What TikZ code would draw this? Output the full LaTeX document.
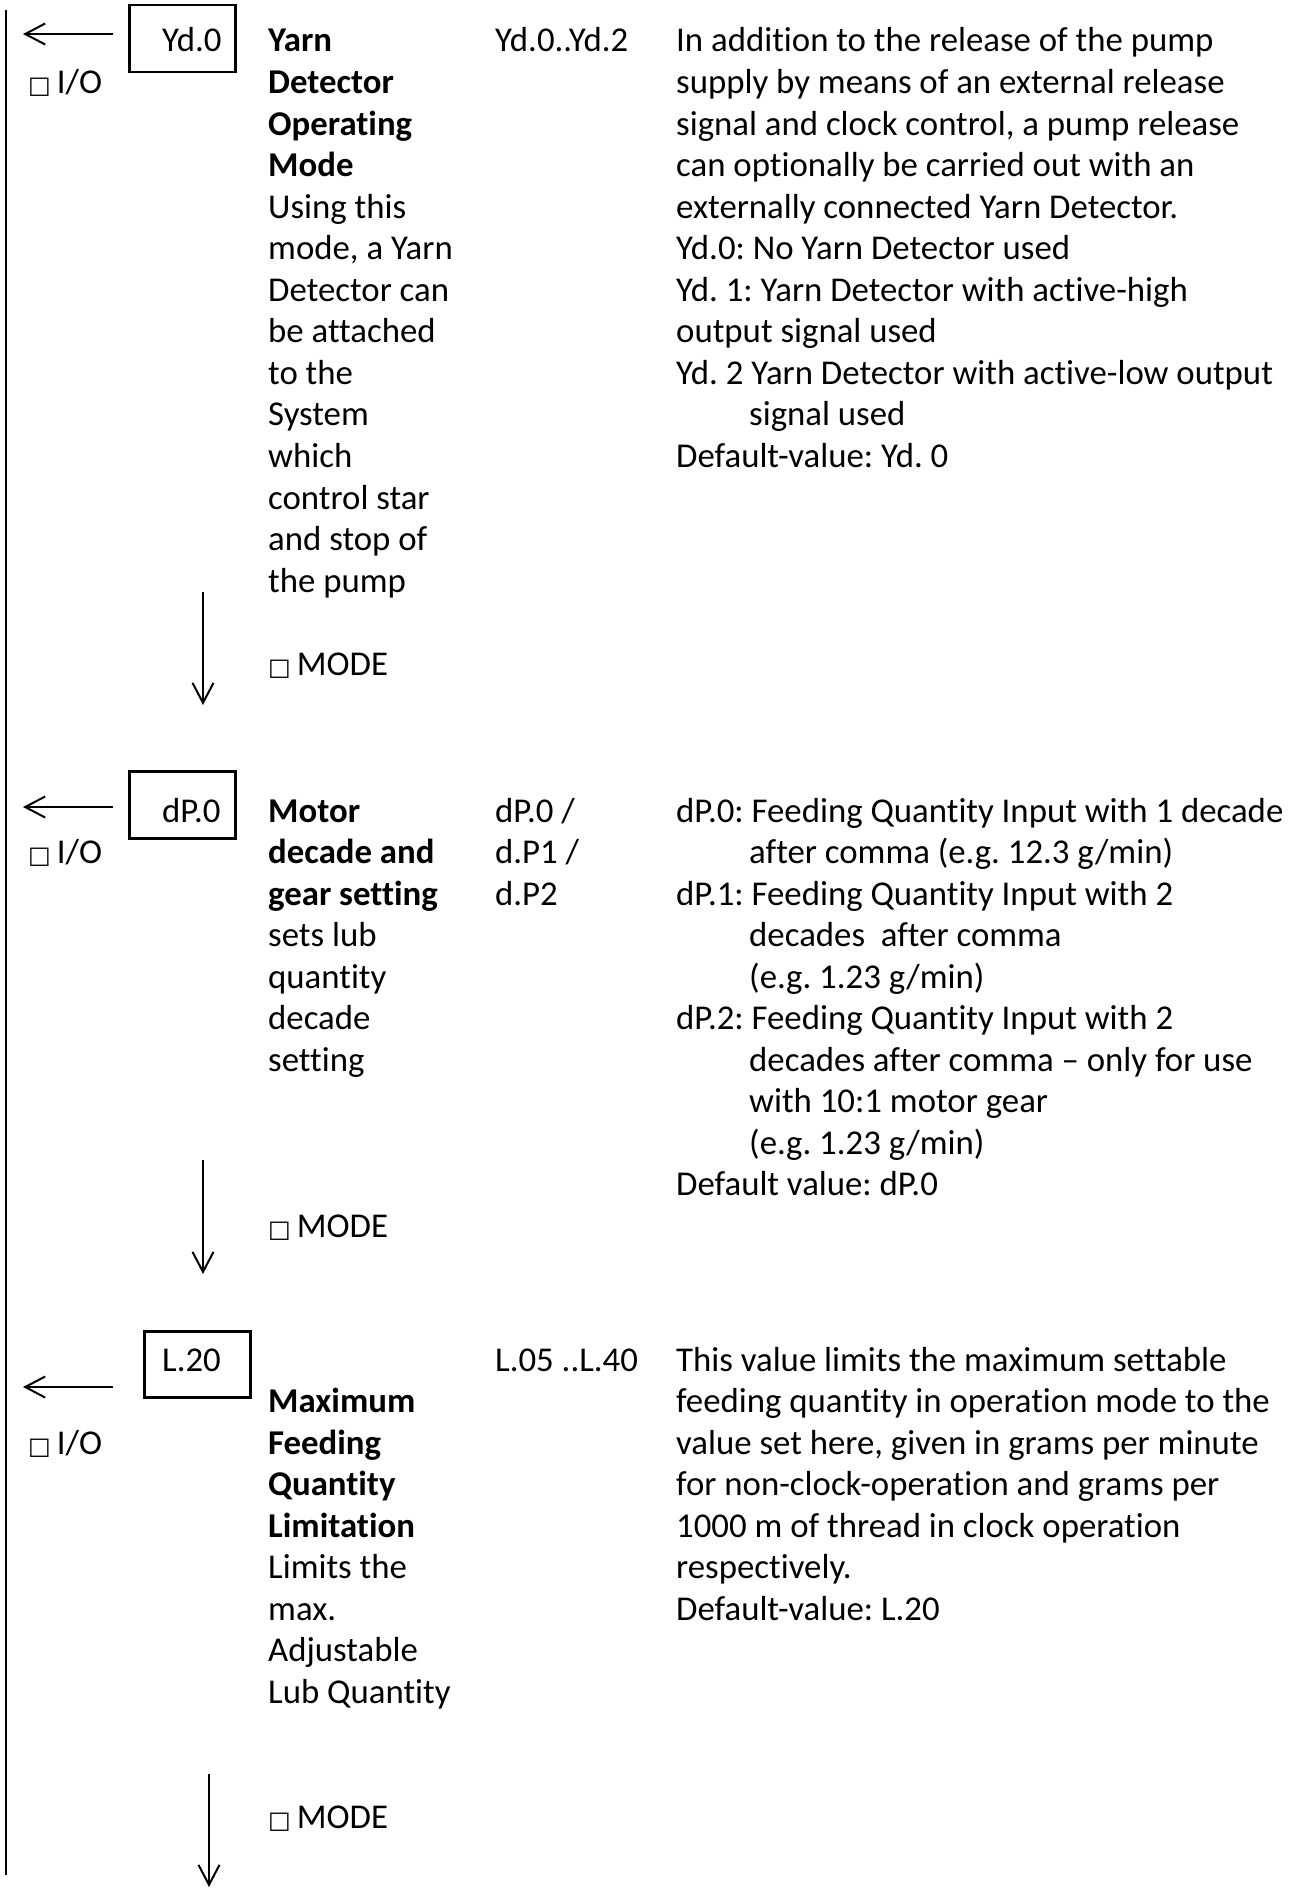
\documentclass[tikz,border=0pt]{standalone}
\usepackage{fontspec}
\setmainfont{Carlito}[Ligatures=NoCommon]
\newfontfamily\dejavu{DejaVu Sans}
\usetikzlibrary{arrows.meta}
\frenchspacing
\newcommand{\sqbox}{{\dejavu\fontsize{24}{24}\selectfont □}\hspace{6pt}}
\newcommand{\ind}{\hspace*{73pt}}
\newcommand{\textlines}[1]{\begin{tabular}[t]{@{}l@{}}#1\end{tabular}}
\tikzset{
  txt/.style={anchor=base west, inner sep=0pt, font=\fontsize{34.8}{41.55}\selectfont},
  valbox/.style={draw, line width=2.5pt, minimum width=106pt, minimum height=67pt, inner sep=0pt, anchor=north west},
  conn/.style={line width=2pt, -{Straight Barb[length=20pt, width=21pt, line width=2pt]}},
  railline/.style={line width=2.7pt},
}
\begin{document}
\begin{tikzpicture}[x=1pt, y=-1pt]
\useasboundingbox (0,0) rectangle (1290,1894);

% left rail
\coordinate (railtop) at (6,10);
\coordinate (railbot) at (6,1875);
\draw[railline] (railtop) -- (railbot);

% ---------------- Section 1 ----------------
\node[valbox] (box1) at (128,4) {};
\node[txt] (val1) at (162,52) {Yd.0};
\coordinate (a1s) at (113,34);
\coordinate (a1e) at (23,34);
\draw[conn] (a1s) -- (a1e);
\node[txt] (io1) at (28,93.5) {\sqbox I/O};
\node[txt] (title1) at (268,52) {\textlines{\textbf{Yarn}\\ \textbf{Detector}\\ \textbf{Operating}\\ \textbf{Mode}\\ Using this\\ mode, a Yarn\\ Detector can\\ be attached\\ to the\\ System\\ which\\ control star\\ and stop of\\ the pump}};
\node[txt] (range1) at (495,52) {Yd.0..Yd.2};
\node[txt] (desc1) at (676,52) {\textlines{In addition to the release of the pump\\ supply by means of an external release\\ signal and clock control, a pump release\\ can optionally be carried out with an\\ externally connected Yarn Detector.\\ Yd.0: No Yarn Detector used\\ Yd. 1: Yarn Detector with active-high\\ output signal used\\ Yd. 2 Yarn Detector with active-low output\\ \ind signal used\\ Default-value: Yd. 0}};
\node[txt] (mode1) at (268,675.5) {\sqbox MODE};
\coordinate (d1s) at (203,592);
\coordinate (d1e) at (203,705);
\draw[conn] (d1s) -- (d1e);

% ---------------- Section 2 ----------------
\node[valbox] (box2) at (128,770) {};
\node[txt] (val2) at (162,822) {dP.0};
\coordinate (a2s) at (113,807);
\coordinate (a2e) at (23,807);
\draw[conn] (a2s) -- (a2e);
\node[txt] (io2) at (28,863.5) {\sqbox I/O};
\node[txt] (title2) at (268,822) {\textlines{\textbf{Motor}\\ \textbf{decade and}\\ \textbf{gear setting}\\ sets lub\\ quantity\\ decade\\ setting}};
\node[txt] (range2) at (495,822) {\textlines{dP.0 /\\ d.P1 /\\ d.P2}};
\node[txt] (desc2) at (676,822) {\textlines{dP.0: Feeding Quantity Input with 1 decade\\ \ind after comma (e.g. 12.3 g/min)\\ dP.1: Feeding Quantity Input with 2\\ \ind decades~ after comma\\ \ind (e.g. 1.23 g/min)\\ dP.2: Feeding Quantity Input with 2\\ \ind decades after comma – only for use\\ \ind with 10:1 motor gear\\ \ind (e.g. 1.23 g/min)\\ Default value: dP.0}};
\node[txt] (mode2) at (268,1237.5) {\sqbox MODE};
\coordinate (d2s) at (203,1160);
\coordinate (d2e) at (203,1274);
\draw[conn] (d2s) -- (d2e);

% ---------------- Section 3 ----------------
\node[valbox, minimum height=66pt] (box3) at (143,1330) {};
\node[txt] (val3) at (162,1371) {L.20};
\coordinate (a3s) at (113,1387);
\coordinate (a3e) at (23,1387);
\draw[conn] (a3s) -- (a3e);
\node[txt] (io3) at (28,1454) {\sqbox I/O};
\node[txt] (title3) at (268,1412.5) {\textlines{\textbf{Maximum}\\ \textbf{Feeding}\\ \textbf{Quantity}\\ \textbf{Limitation}\\ Limits the\\ max.\\ Adjustable\\ Lub Quantity}};
\node[txt] (range3) at (495,1371) {L.05 ..L.40};
\node[txt] (desc3) at (676,1371) {\textlines{This value limits the maximum settable\\ feeding quantity in operation mode to the\\ value set here, given in grams per minute\\ for non-clock-operation and grams per\\ 1000 m of thread in clock operation\\ respectively.\\ Default-value: L.20}};
\node[txt] (mode3) at (268,1828) {\sqbox MODE};
\coordinate (d3s) at (209,1774);
\coordinate (d3e) at (209,1887);
\draw[conn] (d3s) -- (d3e);
\end{tikzpicture}
\end{document}
